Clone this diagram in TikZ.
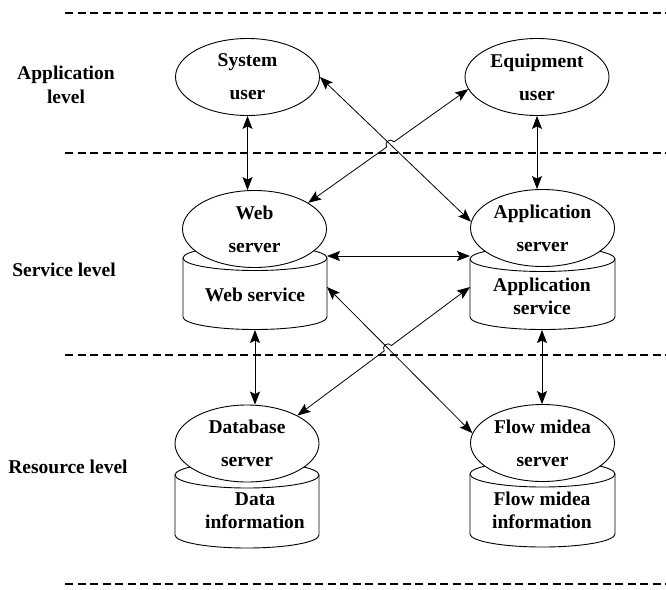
\documentclass[tikz,border=0pt]{standalone}
\usepackage{fontspec}
\setmainfont{Liberation Serif}
\usetikzlibrary{arrows.meta,calc,intersections,shapes.geometric}

\tikzset{
  srv/.style={ellipse, draw, fill=white, line width=0.9pt, inner sep=0pt,
    minimum width=144pt, minimum height=77pt, align=center,
    font=\bfseries\fontsize{19.5}{33}\selectfont},
  cyltxt/.style={align=center, inner sep=0pt, font=\bfseries\fontsize{19.5}{23}\selectfont},
  lvl/.style={align=center, inner sep=0pt, font=\bfseries\fontsize{19.5}{24}\selectfont},
  sepline/.style={line width=2pt, dash pattern=on 8pt off 4.5pt},
  tip/.tip={Stealth[length=13pt,width=10pt,inset=2.5pt]},
  link/.style={line width=0.8pt, tip-tip},
  cylbody/.style={line width=0.9pt, fill=white}
}

\newcommand\mycyl[5]{%
  \draw[cylbody] (#1-#4,#2) -- (#1-#4,#3)
    arc[start angle=180, end angle=360, x radius=#4pt, y radius=#5pt] -- (#1+#4,#2);
  \draw[cylbody] (#1,#2) ellipse[x radius=#4pt, y radius=#5pt];
}

\begin{document}
\begin{tikzpicture}[x=1pt,y=-1pt]
\useasboundingbox (0,0) rectangle (666,589);

% level separators
\coordinate (d1a) at (65,13);  \coordinate (d1b) at (666,13);
\coordinate (d2a) at (65,153); \coordinate (d2b) at (666,153);
\coordinate (d3a) at (65,355); \coordinate (d3b) at (666,355);
\coordinate (d4a) at (65,584); \coordinate (d4b) at (666,584);
\draw[sepline] (d1a) -- (d1b);
\draw[sepline] (d2a) -- (d2b);
\draw[sepline] (d3a) -- (d3b);
\draw[sepline] (d4a) -- (d4b);

% level labels
\node[lvl] (lapp) at (66,85) {Application\\level};
\node[lvl] (lsrv) at (64,270) {Service level};
\node[lvl] (lres) at (68,467) {Resource level};

% cylinders
\mycyl{255}{258}{317}{72}{12.5}
\mycyl{542.5}{259}{317}{72.5}{12.5}
\mycyl{247}{475}{535}{72}{13}
\mycyl{542.5}{474}{534}{72.5}{13}

\node[cyltxt] (wst) at (255,295) {Web service};
\node[cyltxt] (ast) at (542,296) {Application\\service};
\node[cyltxt] (dit) at (255,510.5) {Data\\information};
\node[cyltxt] (fit) at (542,510.5) {Flow midea\\information};

% servers / users
\node[srv] (su) at (247.5,77) {System\\user};
\node[srv] (eu) at (537,77) {Equipment\\user};
\node[srv] (ws) at (254.5,229) {Web\\server};
\node[srv] (as) at (542.5,228) {Application\\server};
\node[srv] (dbs) at (247,443.5) {Database\\server};
\node[srv] (fs) at (542.5,443) {Flow midea\\server};

% cylinder connection points
\coordinate (wcr1) at (327,256);
\coordinate (acl1) at (470,256);
\coordinate (wcr2) at (327,287);
\coordinate (acl2) at (470,287);
\coordinate (wcb) at (255,330);
\coordinate (acb) at (542,330);

% vertical links
\draw[link] (su.south) -- (su.south |- ws.north);
\draw[link] (eu.south) -- (eu.south |- as.north);
\draw[link] (wcb) -- (wcb |- dbs.north);
\draw[link] (acb) -- (acb |- fs.north);

% horizontal link
\draw[link] (wcr1) -- (acl1);

% diagonal links (upper)
\draw[link, name path=l3] (su.east) -- (as.175);
\path[name path=l4] (eu.190) -- (ws.26);
\path[name intersections={of=l3 and l4, by=xa}];
\draw[link] (eu.190) -- ($(xa)!4.5pt!(eu.190)$)
  to[bend right=90, looseness=1.6] ($(xa)!4.5pt!(ws.26)$) -- (ws.26);

% diagonal links (lower)
\draw[link, name path=l6] (wcr2) -- (fs.172);
\path[name path=l7] (acl2) -- (dbs.29);
\path[name intersections={of=l6 and l7, by=xb}];
\draw[link] (acl2) -- ($(xb)!4.5pt!(acl2)$)
  to[bend right=90, looseness=1.6] ($(xb)!4.5pt!(dbs.29)$) -- (dbs.29);
\end{tikzpicture}
\end{document}
